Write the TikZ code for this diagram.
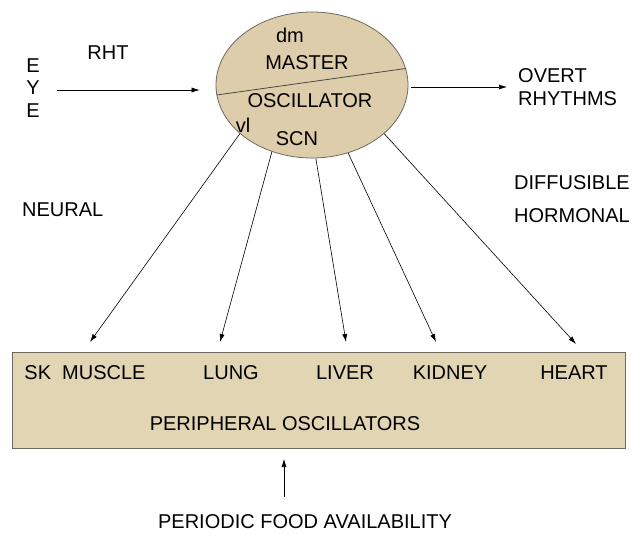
\documentclass[tikz,border=0pt]{standalone}
\usepackage{fontspec}
\setmainfont{Liberation Sans}
\usetikzlibrary{shapes.geometric,arrows.meta}
\definecolor{scnfill}{RGB}{222,205,170}
\definecolor{periphfill}{RGB}{226,213,180}
\definecolor{edgegray}{RGB}{110,105,95}
\begin{document}
\begin{tikzpicture}[x=1pt,y=-1pt,
  lbl/.style={font=\fontsize{20}{22.5}\selectfont,inner sep=0pt},
  arr/.style={-{Latex[length=8pt,width=5pt]},line width=0.6pt}]
\useasboundingbox (0,0) rectangle (632,535);
\node[ellipse,draw=edgegray,line width=0.8pt,fill=scnfill,minimum width=192,minimum height=146] (scn) at (312,85) {};
\draw[edgegray!70!black,line width=0.8pt] (scn.186) -- (scn.10);
\node[lbl] (dm) at (290,35) {dm};
\node[lbl] (master) at (307,63) {MASTER};
\node[lbl] (osc) at (310,101) {OSCILLATOR};
\node[lbl] (vl) at (243,125) {vl};
\node[lbl] (scnlbl) at (297,139) {SCN};
\node[lbl,align=center] (eye) at (33,88) {E\\Y\\E};
\node[lbl] (rht) at (108,53) {RHT};
\node[lbl,align=left,anchor=west] (overt) at (518,87) {OVERT\\RHYTHMS};
\node[lbl,anchor=west] (neural) at (22,210) {NEURAL};
\node[lbl,anchor=west] (diff) at (514,183) {DIFFUSIBLE};
\node[lbl,anchor=west] (horm) at (514,216) {HORMONAL};
\draw[arr,shorten <=17pt,shorten >=16pt] (eye.east |- 0,90) -- (scn.west |- 0,90);
\draw[arr,shorten <=3pt,shorten >=11pt] (scn.east |- overt.west) -- (overt.west);
\node[draw=edgegray,line width=0.8pt,fill=periphfill,minimum width=613,minimum height=96] (periph) at (318.5,400) {};
\node[lbl] (muscle) at (85,373) {SK\ \ MUSCLE};
\node[lbl] (lung) at (231,373) {LUNG};
\node[lbl] (liver) at (345,373) {LIVER};
\node[lbl] (kidney) at (450,373) {KIDNEY};
\node[lbl] (heart) at (574,373) {HEART};
\node[lbl] (perlbl) at (285,424) {PERIPHERAL OSCILLATORS};
\coordinate (tmuscle) at (90,342);
\coordinate (tlung) at (220,342);
\coordinate (tliver) at (346,342);
\coordinate (tkidney) at (436,342);
\coordinate (theart) at (576,344);
\draw[arr] (scn.214) -- (tmuscle);
\draw[arr] (scn.239) -- (tlung);
\draw[arr] (scn.273) -- (tliver);
\draw[arr] (scn.298) -- (tkidney);
\draw[arr] (scn.326) -- (theart);
\node[lbl] (food) at (305,522) {PERIODIC FOOD AVAILABILITY};
\coordinate (tfood) at (284,459);
\draw[arr] (tfood |- 0,497) -- (tfood);
\end{tikzpicture}
\end{document}
